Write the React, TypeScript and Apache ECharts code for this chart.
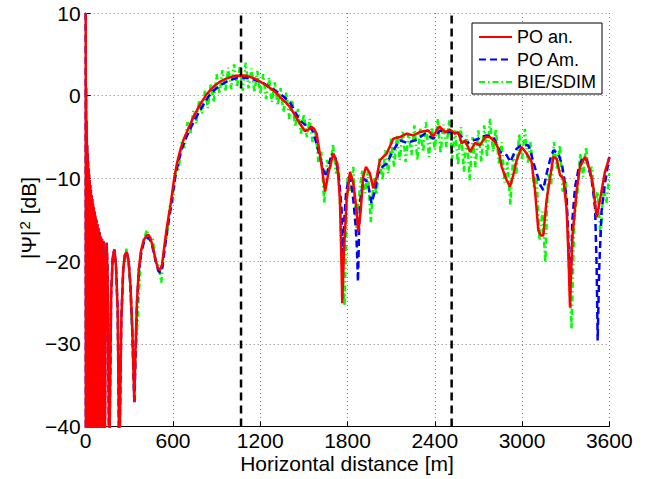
import React, { useEffect, useRef } from "react";
import * as echarts from "echarts";

const FONT = '"Liberation Sans", Arial, Helvetica, sans-serif';

// Near-field oscillations (shared by both PO curves): distance [m], level [dB]
const nearX = [0, 1.2, 2.5, 3.7, 5, 6.2, 7.5, 8.7, 10, 11.5, 13, 14.5, 16, 17.7, 19.5, 21.2, 23, 25, 27, 29, 31, 33.2, 35.5, 37.7, 40, 42.5, 45, 47.5, 50, 52.7, 55.5, 58.2, 61, 64, 67, 70.2, 73.5, 76.7, 80, 83.5, 87, 91, 95, 99, 103, 107.5, 112, 117, 122, 131, 138, 144, 150, 162];
const nearDb = [10, -45, 1, -45, -3, -45, -5, -45, -6, -45, -7, -45, -8, -45, -8.8, -45, -9.5, -45, -10.2, -45, -10.8, -45, -11.4, -45, -12, -45, -12.5, -45, -13, -45, -13.5, -45, -14, -45, -14.5, -45, -15, -45, -15.5, -45, -16, -45, -16.5, -45, -17, -45, -17.3, -45, -17.6, -45, -21, -17.8, -21, -45];

// PO analytic
const redPoints = [
  [175, -24], [186, -19.5], [197, -18.6], [208, -20.5], [220, -26], [231, -45], [245, -27], [258, -21], [270, -19.2], [282, -18.9],
  [295, -20], [308, -23], [320, -28], [328, -33], [334, -37], [342, -31], [352, -25], [365, -21], [380, -18.8], [400, -17.4],
  [420, -16.9], [430, -16.8], [445, -17.2], [460, -18.2], [480, -19.8], [495, -20.8], [511, -21.1], [525, -20.4], [540, -18.3], [555, -16.3],
  [570, -14.6], [580, -13.6], [591, -12.2], [610, -9.8], [630, -8.0], [650, -6.6], [671, -5.4], [700, -4.2], [740, -2.6], [785, -1.1],
  [832, 0.2], [880, 1.1], [923, 1.7], [970, 2.1], [1026, 2.4], [1070, 2.45], [1107, 2.4], [1160, 2.1], [1221, 1.5], [1270, 0.9],
  [1313, 0.3], [1336, -0.2], [1370, -0.7], [1405, -1.4], [1440, -2.4], [1473, -3.4], [1508, -4.3], [1530, -4.1], [1554, -3.8], [1570, -4.0],
  [1588, -4.6], [1605, -6.5], [1623, -8.6], [1646, -11.6], [1668, -9.4], [1702, -7.0], [1730, -8.2], [1748, -12.6], [1756, -18], [1764, -25.1],
  [1776, -18.7], [1794, -12.6], [1817, -9.2], [1840, -10.6], [1863, -13.9], [1874, -16.5], [1891, -13.9], [1908, -9.8], [1927, -8.6], [1954, -9.4],
  [1977, -11.2], [2001, -9.8], [2023, -7.8], [2069, -7.0], [2115, -5.2], [2161, -5.0], [2207, -4.6], [2252, -4.8], [2298, -4.4], [2355, -4.2],
  [2390, -4.9], [2431, -3.7], [2470, -4.4], [2505, -4.1], [2539, -4.6], [2562, -4.4], [2585, -5.8], [2608, -5.4], [2643, -6.8], [2677, -5.7],
  [2711, -6.0], [2746, -5.0], [2780, -5.0], [2814, -5.6], [2837, -6.4], [2860, -8.6], [2894, -10.2], [2917, -11.0], [2940, -9.6], [2963, -7.8],
  [2997, -6.2], [3032, -7.0], [3066, -8.0], [3089, -11.4], [3112, -16.3], [3130, -16.9], [3146, -16.9], [3169, -12.6], [3192, -10.0], [3215, -7.4],
  [3238, -7.6], [3261, -9.6], [3284, -10.0], [3307, -13.8], [3318, -18.7], [3330, -25.6], [3338, -21], [3348, -16.7], [3376, -11.4], [3398, -8.6],
  [3433, -7.4], [3467, -9.0], [3490, -11.0], [3513, -14.7], [3536, -12.6], [3570, -9.2], [3600, -7.5],
];

// PO Am.
const bluePoints = [
  [175, -24], [186, -19.5], [197, -18.6], [208, -20.5], [220, -26], [231, -45], [245, -27], [258, -21], [270, -19.2], [282, -18.9],
  [295, -20], [308, -23], [320, -28.5], [328, -33.5], [335, -37.3], [343, -31], [353, -25], [366, -21], [382, -19], [402, -17.6],
  [425, -17.2], [435, -17.2], [450, -17.7], [465, -18.7], [485, -20.3], [500, -21.2], [514, -21.4], [528, -20.6], [543, -18.6], [558, -16.6],
  [573, -14.9], [585, -13.6], [600, -11.6], [620, -9.4], [640, -7.8], [660, -6.5], [680, -5.5], [710, -4.3], [750, -2.9], [795, -1.5],
  [840, -0.2], [885, 0.7], [930, 1.3], [980, 1.8], [1030, 2.1], [1080, 2.2], [1120, 2.1], [1170, 1.9], [1221, 1.5], [1270, 1.0],
  [1313, 0.5], [1360, -0.1], [1405, -0.8], [1440, -2.0], [1473, -3.0], [1508, -3.5], [1535, -3.6], [1565, -4.4], [1599, -6.6], [1634, -9.0],
  [1657, -9.8], [1675, -8.2], [1691, -7.0], [1720, -7.6], [1745, -10.5], [1760, -14], [1768, -19], [1778, -15], [1790, -11.8], [1810, -9.8],
  [1825, -10.5], [1840, -12.6], [1855, -15.5], [1865, -18.5], [1872, -22.5], [1880, -16], [1888, -12.6], [1910, -10.0], [1935, -10.4], [1950, -11.5],
  [1965, -13.0], [1990, -11.4], [2010, -9.4], [2040, -8.6], [2069, -8.2], [2115, -6.6], [2161, -5.4], [2207, -5.7], [2264, -5.4], [2333, -4.6],
  [2390, -5.2], [2436, -4.2], [2470, -4.4], [2505, -4.4], [2551, -4.4], [2585, -5.0], [2619, -5.8], [2654, -5.4], [2688, -5.3], [2720, -5.0],
  [2757, -4.8], [2802, -5.0], [2825, -5.8], [2848, -6.8], [2870, -7.0], [2894, -7.2], [2920, -8.0], [2940, -7.2], [2963, -6.4], [2985, -6.1],
  [3009, -6.0], [3043, -6.0], [3060, -6.8], [3077, -8.0], [3101, -9.4], [3125, -10.8], [3146, -11.4], [3169, -9.4], [3192, -7.8], [3215, -6.6],
  [3249, -7.0], [3273, -8.2], [3290, -10.0], [3307, -12.6], [3318, -17], [3328, -23], [3336, -22], [3346, -15], [3365, -11], [3387, -9.0],
  [3410, -7.8], [3444, -7.6], [3479, -10.2], [3502, -13.4], [3513, -20.7], [3520, -29.6], [3531, -20.7], [3547, -13.9], [3570, -10.6], [3600, -7.4],
];

// BIE/SDIM, sampled every 20 m from 260 m
const greenStart = 260;
const greenStep = 20;
const greenDb = [
  -20.5, -18.5, -21.0, -28.5, -33.0, -26.0, -19.0, -17.5, -16.2, -17.5,
  -17.2, -20.0, -20.5, -22.6, -18.5, -16.8, -13.0, -12.8, -9.0, -8.9,
  -5.5, -6.3, -3.2, -4.5, -1.8, -3.4, -0.5, -2.2, 0.6, -1.5,
  1.5, -0.8, 2.6, 0.2, 3.1, 0.5, 3.4, 0.8, 3.8, 1.0,
  3.5, 0.6, 4.0, 0.9, 3.3, 0.4, 3.0, 0.2, 2.6, -0.4,
  2.2, -0.8, 1.6, -1.2, 0.9, -2.0, 0.4, -2.8, -0.5, -3.8,
  -1.6, -4.6, -2.2, -5.0, -2.8, -5.6, -4.4, -8.0, -6.8, -13.0,
  -7.8, -9.0, -5.8, -9.4, -8.6, -20.0, -25.4, -10.0, -11.5, -8.6,
  -16.0, -12.0, -9.0, -11.8, -9.2, -15.3, -10.0, -12.0, -7.6, -10.2,
  -6.6, -9.4, -5.2, -8.6, -4.8, -7.8, -4.2, -8.0, -4.5, -7.2,
  -3.6, -7.8, -4.0, -6.8, -3.2, -7.4, -3.8, -6.6, -2.8, -7.0,
  -3.5, -6.2, -3.0, -7.6, -4.2, -8.4, -3.8, -9.2, -4.8, -10.2,
  -5.0, -8.6, -4.2, -8.0, -3.6, -7.4, -2.8, -6.8, -4.0, -8.2,
  -5.6, -10.5, -8.0, -13.2, -7.0, -9.6, -4.6, -7.8, -4.0, -8.2,
  -5.6, -11.0, -9.5, -17.5, -14.0, -20.2, -9.5, -10.8, -5.6, -8.8,
  -6.0, -11.6, -10.4, -19.0, -28.2, -15.0, -12.0, -7.0, -9.8, -6.2,
  -9.4, -8.6, -13.4, -11.6, -17.2, -11.0, -13.0, -9.4,
];

// Vertical dashed reference lines [m]
const markerX = [1068, 2516];

const legendNames = ["PO an.", "PO Am.", "BIE/SDIM"];

export default function App() {
  const ref = useRef<HTMLDivElement>(null);
  useEffect(() => {
    if (!ref.current) return;
    const chart = echarts.init(ref.current, null, { renderer: "svg" });
    const near = nearX.map((x, i) => [x, nearDb[i]]);
    const redData = near.concat(redPoints);
    const blueData = near.concat(bluePoints);
    const greenData = greenDb.map((v, i) => [greenStart + i * greenStep, v]);
    const minus = (v: number) => String(v).replace("-", "\u2212");

    const option: any = {
      animation: false,
      backgroundColor: "#ffffff",
      grid: { left: 85.7, right: 50.7, top: 13, bottom: 52.5, containLabel: false },
      xAxis: {
        type: "value",
        min: 0,
        max: 3600,
        interval: 600,
        axisLine: { show: true, onZero: false, lineStyle: { color: "#000", width: 1 } },
        axisTick: { show: true, inside: true, length: 5, lineStyle: { color: "#000" } },
        axisLabel: { color: "#000", fontSize: 21, fontFamily: FONT, margin: 3, formatter: minus },
        splitLine: { show: true, lineStyle: { color: "#808080", type: [1, 3], width: 1 } },
      },
      yAxis: {
        type: "value",
        min: -40,
        max: 10,
        interval: 10,
        axisLine: { show: true, onZero: false, lineStyle: { color: "#000", width: 1 } },
        axisTick: { show: true, inside: true, length: 5, lineStyle: { color: "#000" } },
        axisLabel: { color: "#000", fontSize: 21, fontFamily: FONT, margin: 5, formatter: minus },
        splitLine: { show: true, lineStyle: { color: "#808080", type: [1, 3], width: 1 } },
      },
      legend: {
        data: legendNames,
        orient: "vertical",
        left: 472,
        top: 23,
        padding: [5, 6, 3, 6],
        itemGap: 4.5,
        itemWidth: 33,
        itemHeight: 18,
        selectedMode: false,
        backgroundColor: "#ffffff",
        borderColor: "#000",
        borderWidth: 1,
        borderRadius: 0,
        itemStyle: { opacity: 0 },
        textStyle: { fontSize: 18, fontFamily: FONT, color: "#000", lineHeight: 18 },
      },
      series: [
        {
          name: "BIE/SDIM",
          type: "line",
          data: greenData,
          symbol: "none",
          silent: true,
          lineStyle: { color: "#00ff00", width: 2.5, type: [6, 3, 1.5, 3] },
          itemStyle: { color: "#00ff00" },
          z: 2,
        },
        {
          name: "PO Am.",
          type: "line",
          data: blueData,
          symbol: "none",
          silent: true,
          lineStyle: { color: "#0000ff", width: 2.5, type: [7, 4] },
          itemStyle: { color: "#0000ff" },
          z: 3,
        },
        {
          name: "PO an.",
          type: "line",
          data: redData,
          symbol: "none",
          silent: true,
          lineStyle: { color: "#ff0000", width: 2.5, type: "solid" },
          itemStyle: { color: "#ff0000" },
          z: 4,
        },
        ...markerX.map((x, i) => ({
          name: "marker" + i,
          type: "line",
          data: [[x, -40], [x, 10]],
          symbol: "none",
          silent: true,
          lineStyle: { color: "#000", width: 2.5, type: [8, 5] },
          z: 5,
        })),
      ],
      graphic: [
        {
          type: "text",
          x: 28,
          y: 218,
          rotation: Math.PI / 2,
          silent: true,
          style: {
            text: "|\u03A8|{s|2} [dB]",
            fontSize: 21,
            fontFamily: FONT,
            fill: "#000",
            align: "center",
            verticalAlign: "middle",
            rich: {
              s: { fontSize: 15, fontFamily: FONT, fill: "#000", verticalAlign: "top", padding: [0, 1, 8, 1] },
            },
          },
        },
        {
          type: "text",
          x: 347,
          y: 463,
          silent: true,
          style: {
            text: "Horizontal distance [m]",
            fontSize: 21,
            fontFamily: FONT,
            fill: "#000",
            align: "center",
            verticalAlign: "middle",
          },
        },
      ],
    };
    chart.setOption(option);
    return () => chart.dispose();
  }, []);
  return <div ref={ref} style={{ width: 660, height: 479, position: "absolute", left: 0, top: 0 }} />;
}
